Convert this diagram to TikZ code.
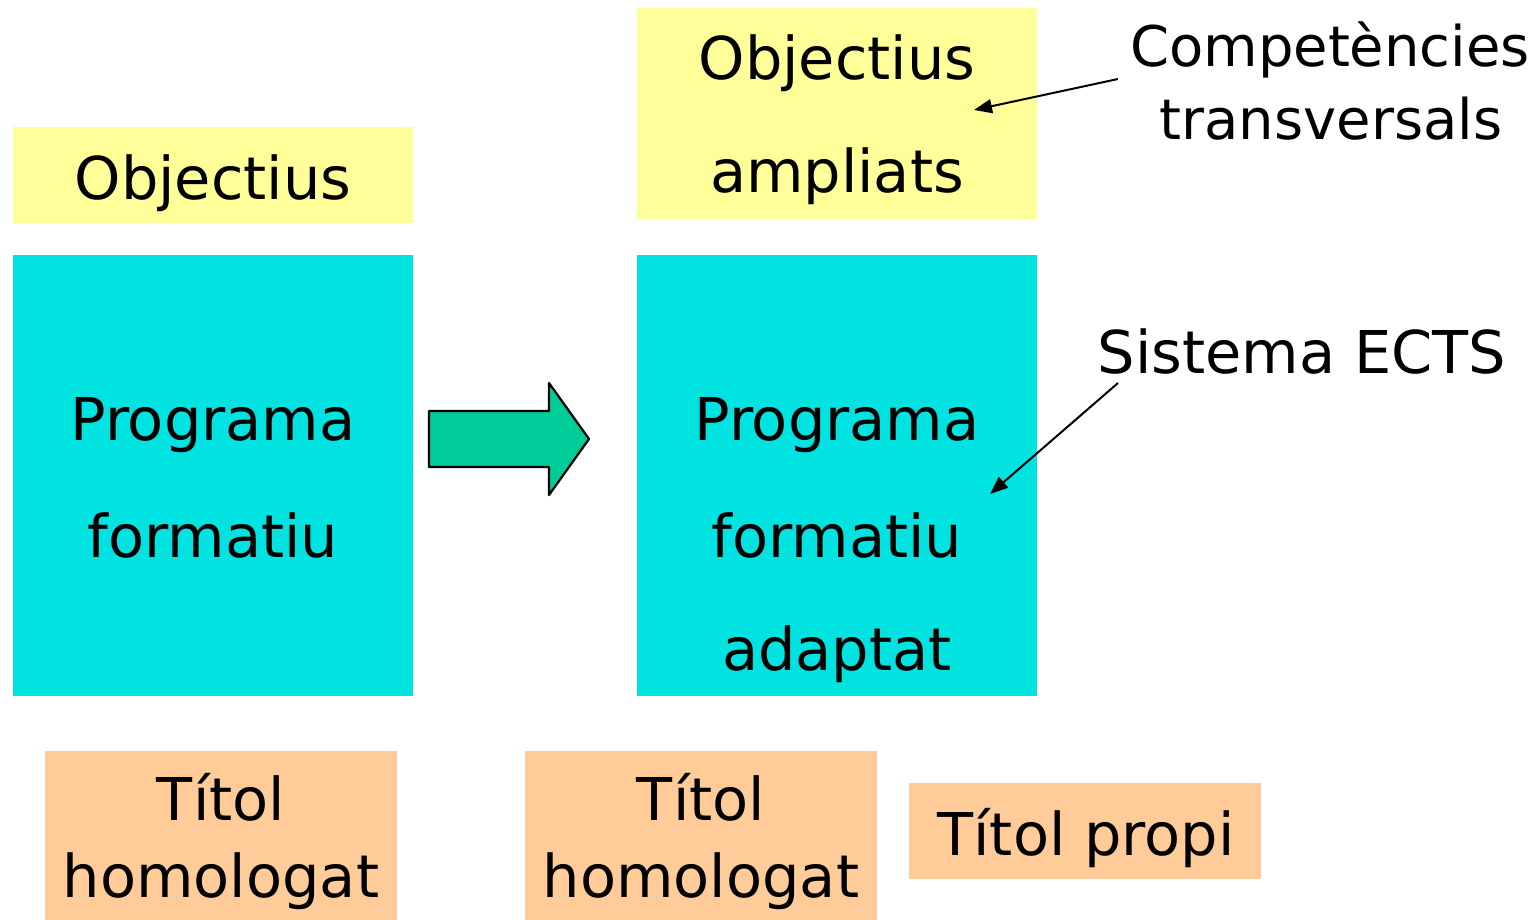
\documentclass[tikz,border=0pt]{standalone}
\usepackage{fontspec}
\setmainfont{DejaVu Sans}
\usetikzlibrary{arrows.meta}
\definecolor{ylw}{HTML}{FFFF99}
\definecolor{cyn}{HTML}{00E3E0}
\definecolor{org}{HTML}{FFCC99}
\definecolor{grn}{HTML}{00CC99}
\begin{document}
\begin{tikzpicture}[x=1pt,y=-1pt,
  box/.style={inner sep=0pt, outer sep=0pt, anchor=north west},
  ybox/.style={box, fill=ylw},
  cbox/.style={box, fill=cyn},
  obox/.style={box, fill=org},
  lbl/.style={anchor=base, inner sep=0pt, font=\fontsize{59}{62}\selectfont},
  slbl/.style={lbl, font=\fontsize{56}{60}\selectfont},
  conn/.style={line width=2pt, -{Triangle[length=18pt,width=14pt]}}]
\useasboundingbox (0,0) rectangle (1539,920);
% boxes
\node[ybox, minimum width=400pt, minimum height=96pt] (oy1) at (13,127) {};
\node[cbox, minimum width=400pt, minimum height=441pt] (pc1) at (13,255) {};
\node[ybox, minimum width=400pt, minimum height=211pt] (oy2) at (637,8) {};
\node[cbox, minimum width=400pt, minimum height=441pt] (pc2) at (637,255) {};
\node[obox, minimum width=352pt, minimum height=169pt] (t1) at (45,751) {};
\node[obox, minimum width=352pt, minimum height=169pt] (t2) at (525,751) {};
\node[obox, minimum width=352pt, minimum height=96pt] (t3) at (909,783) {};
% big arrow
\draw[fill=grn, line width=2.2pt, line join=round]
  (429,411) -- (549,411) -- (549,383) -- (589,439) -- (549,495) -- (549,467) -- (429,467) -- cycle;
% texts
\node[lbl] (a1) at (213,200) {Objectius};
\node[lbl] (a2) at (837,80) {Objectius};
\node[lbl] (a3) at (837,193) {ampliats};
\node[lbl] (b1) at (213,440) {Programa};
\node[lbl] (b2) at (213,557) {formatiu};
\node[lbl] (c1) at (837,440) {Programa};
\node[lbl] (c2) at (837,557) {formatiu};
\node[lbl] (c3) at (837,670) {adaptat};
\node[slbl] (d1) at (1330,67) {Competències};
\node[slbl] (d2) at (1331,140) {transversals};
\node[lbl] (e1) at (1302,373) {Sistema ECTS};
\node[lbl] (f1) at (221,820) {Títol};
\node[lbl] (f2) at (221,897) {homologat};
\node[lbl] (g1) at (701,820) {Títol};
\node[lbl] (g2) at (701,897) {homologat};
\node[lbl] (h1) at (1086,855) {Títol propi};
% connectors
\coordinate (s1) at (1118,79);
\coordinate (e1tip) at (974,110);
\coordinate (s2) at (1118,383);
\coordinate (e2tip) at (990,494);
\draw[conn] (s1) -- (e1tip);
\draw[conn] (s2) -- (e2tip);
\end{tikzpicture}
\end{document}
